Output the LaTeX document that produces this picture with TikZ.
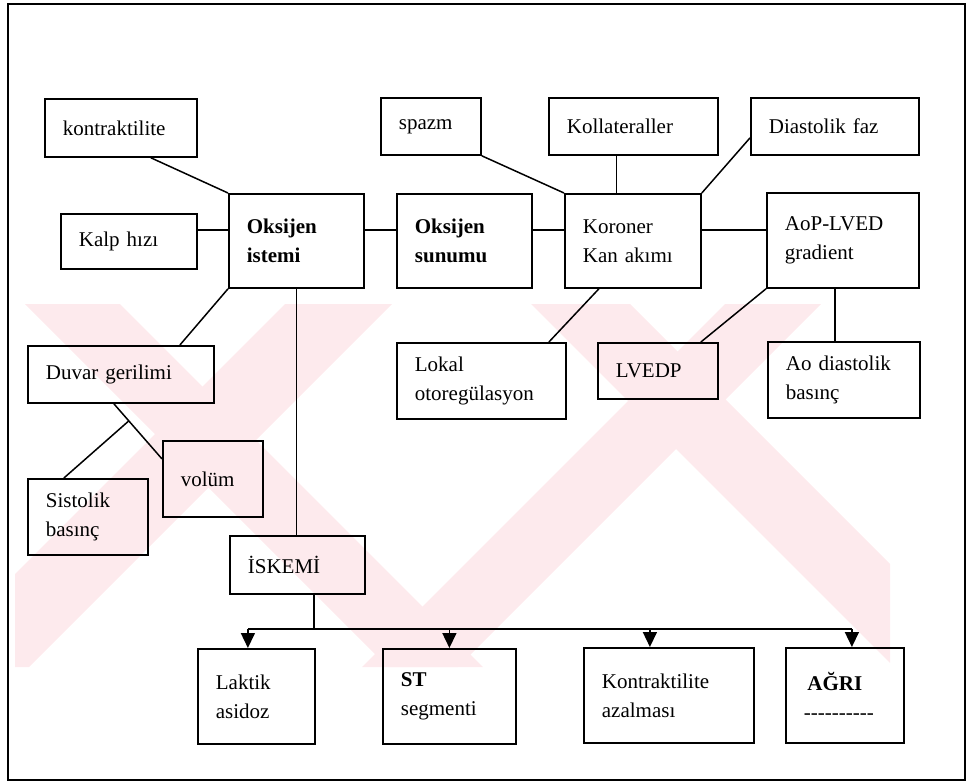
\documentclass[tikz,border=0pt]{standalone}
\usepackage{fontspec}
\setmainfont{Liberation Serif}
\usepackage{xcolor}
\definecolor{wmpink}{HTML}{FDEAED}
\usetikzlibrary{arrows.meta}

\newcommand\tire{\mbox{-}}

\begin{document}
\begin{tikzpicture}[
  x=0.5pt, y=-0.5pt,
  font=\fontsize{10.5}{14.5}\selectfont,
  kutu/.style 2 args={draw, line width=0.9pt, anchor=north west,
    inner xsep=9pt, inner ysep=0pt,
    text width=#1, minimum height=#2, align=left},
  bag/.style={line width=0.75pt},
  ok/.style={bag, -{Triangle[width=7pt, length=7.5pt]}}
]
  \useasboundingbox (0,0) rectangle (968,782);

  % faint watermark
  \begin{scope}
    \clip (15,304) rectangle (890,667);
    \fill[wmpink] (25,304) -- (120,304) -- (483,667) -- (388,667) -- cycle;
    \fill[wmpink] (285,304) -- (392,304) -- (29,667) -- (-78,667) -- cycle;
    \fill[wmpink] (531,304) -- (630,304) -- (993,667) -- (894,667) -- cycle;
    \fill[wmpink] (725,304) -- (821,304) -- (458,667) -- (362,667) -- cycle;
  \end{scope}

  \draw[line width=1pt] (8,4) rectangle (965,780);

  % top row
  \node[kutu={58pt}{29pt}]   (kontr)   at (44,98)   {kontraktilite};
  \node[kutu={32pt}{28.5pt}] (spazm)   at (380,97)  {spazm};
  \node[kutu={66.5pt}{28.5pt}] (koll)  at (548,97)  {Kollateraller};
  \node[kutu={66pt}{28.5pt}] (diast)   at (750,97)  {Diastolik faz};

  % main row
  \node[kutu={50pt}{27.5pt}] (kalp)    at (60,213)  {Kalp hızı};
  \node[kutu={49.5pt}{47pt}] (istemi)  at (228,193) {\textbf{Oksijen}\\\textbf{istemi}};
  \node[kutu={49.5pt}{47pt}] (sunum)   at (396,193) {\textbf{Oksijen}\\\textbf{sunumu}};
  \node[kutu={50pt}{47pt}]   (koroner) at (564,193) {Koroner\\Kan akımı};
  \node[kutu={58pt}{47.5pt}] (aop)     at (766,192) {AoP-LVED\\gradient};

  % middle
  \node[kutu={75pt}{28.5pt}] (duvar)   at (27,345)  {Duvar gerilimi};
  \node[kutu={32pt}{38pt}]   (volum)   at (162,440) {volüm};
  \node[kutu={42pt}{38pt}]   (sistol)  at (27,478)  {Sistolik\\basınç};
  \node[kutu={66.5pt}{38pt}] (lokal)   at (396,342) {Lokal\\otoregülasyon};
  \node[kutu={42pt}{28pt}]   (lvedp)   at (597,342) {LVEDP};
  \node[kutu={58pt}{38pt}]   (aodiast) at (767,341) {Ao diastolik\\basınç};
  \node[kutu={49.5pt}{29pt}] (iskemi)  at (229,535) {İSKEMİ};

  % bottom row
  \node[kutu={40.5pt}{47.5pt}] (laktik) at (197,648) {Laktik\\asidoz};
  \node[kutu={48.5pt}{47.5pt}] (st)     at (382,648) {\textbf{ST}\\segmenti};
  \node[kutu={67pt}{47.5pt}]   (kazal)  at (583,647) {Kontraktilite\\azalması};
  \node[kutu={41pt}{47.5pt}]   (agri)   at (785,647)
    {\textbf{\,AĞRI}\\\tire\tire\tire\tire\tire\tire\tire\tire\tire\tire};

  % links
  \coordinate (yatay) at (0,230);
  \draw[bag] (kalp.east |- yatay) -- (istemi.west |- yatay);
  \draw[bag] (istemi.east |- yatay) -- (sunum.west |- yatay);
  \draw[bag] (sunum.east |- yatay) -- (koroner.west |- yatay);
  \draw[bag] (koroner.east |- yatay) -- (aop.west |- yatay);

  \draw[bag] ([xshift=15pt]kontr.south) -- (istemi.north west);
  \draw[bag] (spazm.south east) -- (koroner.north west);
  \draw[bag] ([xshift=-8.5pt]koll.south) -- ([xshift=-8.5pt]koll.south |- koroner.north);
  \draw[bag] ([yshift=-5.75pt]diast.west) -- (koroner.north east);
  \draw[bag] ([xshift=-17pt]koroner.south) -- ([xshift=33.75pt]lokal.north);
  \draw[bag] (aop.south west) -- ([xshift=21.5pt]lvedp.north);
  \draw[bag] ([xshift=-4pt]aop.south) -- ([xshift=-4pt]aop.south |- aodiast.north);

  \draw[bag] (istemi.south west) -- ([xshift=29.5pt]duvar.north);
  \draw[bag] (istemi.south) -- (istemi.south |- iskemi.north);
  \draw[bag] ([xshift=-3.5pt]duvar.south) -- coordinate[pos=0.31] (catal)
    ([yshift=10pt]volum.west);
  \draw[bag] (catal) -- ([xshift=-12pt]sistol.north);

  % ischemia outcomes
  \coordinate (hat) at (0,629);
  \draw[bag] ([xshift=8.25pt]iskemi.south) -- ([xshift=8.25pt]iskemi.south |- hat);
  \draw[bag] ([xshift=-4.25pt]laktik.north |- hat) -- ([xshift=3.5pt]agri.north |- hat);
  \foreach \k/\s in {laktik/-4.25pt, st/0pt, kazal/-9.5pt, agri/3.5pt}
    \draw[ok] ([xshift=\s]\k.north |- hat) -- ([xshift=\s]\k.north);
\end{tikzpicture}
\end{document}
